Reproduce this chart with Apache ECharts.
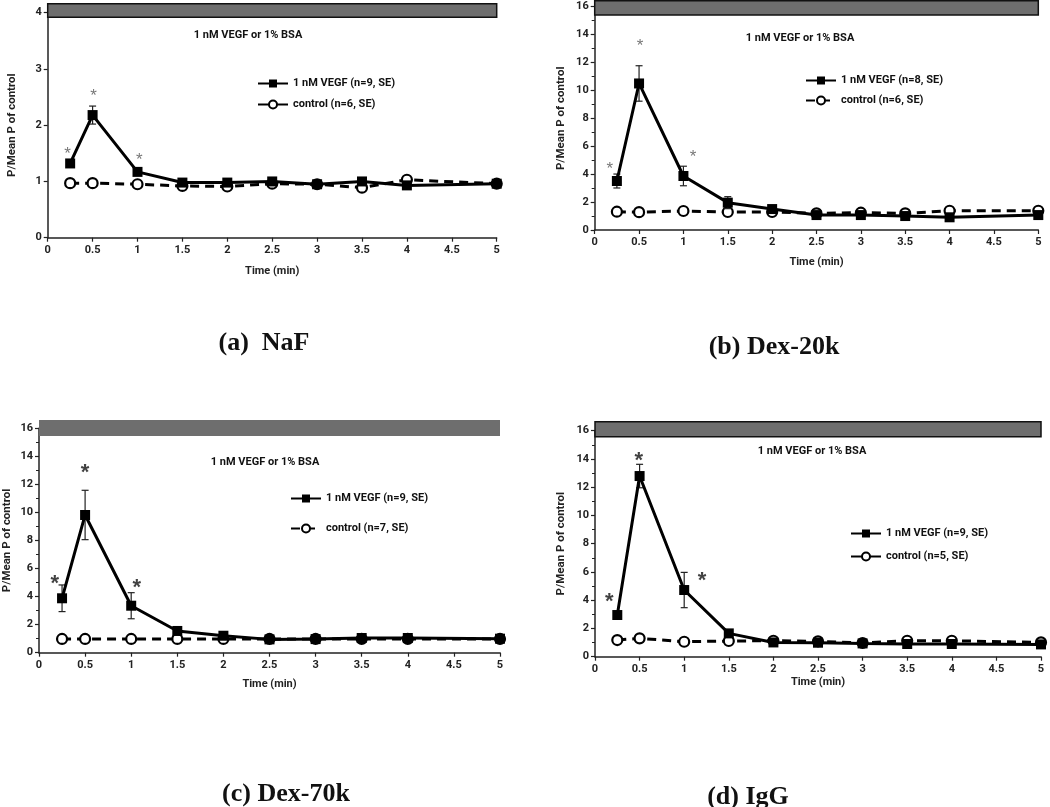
<!DOCTYPE html>
<html><head><meta charset="utf-8">
<script src="https://cdn.jsdelivr.net/npm/echarts@6/dist/echarts.min.js"></script>
<style>html,body{margin:0;padding:0;background:#fff}#c{width:1050px;height:807px}</style>
</head><body><div id="c"></div>
<script>
// ---------- DATA ----------
const times = [0.25, 0.5, 1, 1.5, 2, 2.5, 3, 3.5, 4, 5];
const xTickLabels = ['0','0.5','1','1.5','2','2.5','3','3.5','4','4.5','5'];
const yTicksA = ['0','1','2','3','4'];
const yTicksBCD = ['0','2','4','6','8','10','12','14','16'];

const vegfA   = [1.32, 2.18, 1.17, 0.98, 0.98, 1.00, 0.95, 1.00, 0.93, 0.96];
const vegfSeA = [0.05, 0.16, 0.04, 0.03, 0.03, 0.03, 0.03, 0.03, 0.03, 0.03];
const ctrlA   = [0.97, 0.97, 0.95, 0.92, 0.91, 0.96, 0.95, 0.89, 1.03, 0.96];

const vegfB   = [3.51, 10.5, 3.87, 1.96, 1.50, 1.07, 1.07, 1.00, 0.91, 1.07];
const vegfSeB = [0.50, 1.27, 0.70, 0.43, 0.20, 0.10, 0.10, 0.10, 0.10, 0.10];
const ctrlB   = [1.31, 1.28, 1.36, 1.29, 1.29, 1.19, 1.24, 1.19, 1.38, 1.38];

const vegfC   = [3.88, 9.82, 3.35, 1.55, 1.21, 0.95, 0.97, 1.05, 1.05, 1.00];
const vegfSeC = [0.95, 1.76, 0.93, 0.15, 0.10, 0.08, 0.08, 0.08, 0.08, 0.08];
const ctrlC   = [0.98, 0.98, 0.98, 0.98, 0.98, 0.98, 0.98, 0.98, 0.98, 0.98];

const vegfD   = [2.95, 12.79, 4.72, 1.65, 1.01, 0.99, 0.94, 0.90, 0.90, 0.87];
const vegfSeD = [0.15, 0.83, 1.25, 0.10, 0.08, 0.08, 0.08, 0.08, 0.08, 0.08];
const ctrlD   = [1.18, 1.30, 1.06, 1.11, 1.13, 1.09, 0.97, 1.13, 1.13, 1.01];

// asterisk positions [time, value]
const starsA = [[0.22, 1.57], [0.51, 2.60], [1.02, 1.47]];
const starsB = [[0.17, 4.73], [0.51, 13.5], [1.11, 5.54]];
const starsC = [[0.17, 5.40], [0.50, 13.3], [1.06, 5.10]];
const starsD = [[0.16, 4.37], [0.49, 14.3], [1.20, 5.83]];

// gray "treatment" band [xStart, xEnd, yLow, yHigh]
const bandA = [0, 5, 3.92, 4.16];
const bandB = [0, 5, 15.40, 16.42];
const bandC = [0, 5, 15.45, 16.60];
const bandD = [0, 5, 15.58, 16.64];

const vegfNames = ['1 nM VEGF (n=9, SE)', '1 nM VEGF (n=8, SE)', '1 nM VEGF (n=9, SE)', '1 nM VEGF (n=9, SE)'];
const ctrlNames = ['control (n=6, SE)', 'control (n=6, SE) ', 'control (n=7, SE)', 'control (n=5, SE)'];
const bandLabel = '1 nM VEGF or 1% BSA';
const subtitles = ['(a)  NaF', '(b) Dex-20k', '(c) Dex-70k', '(d) IgG'];
const xName = 'Time (min)';
const yName = 'P/Mean P of control';

// ---------- LAYOUT ----------
const FONT = 'Roboto, "Open Sans", sans-serif';
const panels = [
  { vegf: vegfA, se: vegfSeA, ctrl: ctrlA, stars: starsA, band: bandA, yMax: 4, yInt: 1, minor: false, yTicks: yTicksA,
    grid: { left: 47.7, right: 553.3, top: 12.7, bottom: 569.3 }, yGap: 30, xGap: 28, border: true,
    legend: { left: 257, top: 78, gap: 10 }, bandText: [248, 35], sub: [264, 343], starSize: 17, starBold: false, starColor: '#555', ctrlLegendSolid: true },
  { vegf: vegfB, se: vegfSeB, ctrl: ctrlB, stars: starsB, band: bandB, yMax: 16, yInt: 2, minor: true, yTicks: yTicksBCD,
    grid: { left: 594.7, right: 11.7, top: 6.7, bottom: 577 }, yGap: 28, xGap: 27, border: true,
    legend: { left: 805, top: 75, gap: 9 }, bandText: [800, 38], sub: [774, 347], starSize: 17, starBold: false, starColor: '#555', ctrlLegendSolid: false },
  { vegf: vegfC, se: vegfSeC, ctrl: ctrlC, stars: starsC, band: bandC, yMax: 16, yInt: 2, minor: true, yTicks: yTicksBCD,
    grid: { left: 37.3, right: 550, top: 428.3, bottom: 154.3 }, yGap: 26, xGap: 26, border: false,
    legend: { left: 290, top: 493, gap: 19 }, bandText: [265, 462], sub: [286, 794], starSize: 22, starBold: true, starColor: '#111', ctrlLegendSolid: false },
  { vegf: vegfD, se: vegfSeD, ctrl: ctrlD, stars: starsD, band: bandD, yMax: 16, yInt: 2, minor: true, yTicks: yTicksBCD,
    grid: { left: 595, right: 9, top: 430.7, bottom: 150.3 }, yGap: 28, xGap: 20, border: true,
    legend: { left: 850, top: 528, gap: 12 }, bandText: [812, 451], sub: [748, 797], starSize: 22, starBold: true, starColor: '#111', ctrlLegendSolid: true }
];

const grids = [], xAxes = [], yAxes = [], series = [], legends = [], graphics = [];
const axisLine = { show: true, lineStyle: { color: '#222', width: 1.5 } };
const labelStyle = { color: '#222', fontFamily: FONT, fontWeight: 'bold', fontSize: 11 };

panels.forEach((p, i) => {
  grids.push(Object.assign({ containLabel: false }, p.grid));
  xAxes.push({
    type: 'value', gridIndex: i, min: 0, max: 5, interval: 0.5,
    name: xName, nameLocation: 'middle', nameGap: p.xGap,
    nameTextStyle: labelStyle,
    axisLine: axisLine, axisTick: { show: true, length: 4, lineStyle: { color: '#222', width: 1.2 } },
    axisLabel: Object.assign({ margin: 7, formatter: v => xTickLabels[Math.round(v / 0.5)] }, labelStyle),
    splitLine: { show: false }
  });
  yAxes.push({
    type: 'value', gridIndex: i, min: 0, max: p.yMax, interval: p.yInt,
    name: yName, nameLocation: 'middle', nameGap: p.yGap,
    nameTextStyle: Object.assign({}, labelStyle, { fontSize: 11.5 }),
    axisLine: axisLine, axisTick: { show: true, length: 4, lineStyle: { color: '#222', width: 1.2 } },
    minorTick: { show: p.minor, splitNumber: 2, length: 3, lineStyle: { color: '#222', width: 1 } },
    axisLabel: Object.assign({ margin: 6, formatter: v => p.yTicks[Math.round(v / p.yInt)] }, labelStyle),
    splitLine: { show: false }
  });
  // gray band
  series.push({
    type: 'custom', xAxisIndex: i, yAxisIndex: i, clip: false, silent: true, z: 1,
    data: [p.band],
    encode: { x: [0, 1], y: [2, 3] },
    renderItem: (params, api) => {
      const a = api.coord([api.value(0), api.value(2)]);
      const b = api.coord([api.value(1), api.value(3)]);
      return { type: 'rect', shape: { x: a[0], y: b[1], width: b[0] - a[0], height: a[1] - b[1] },
        style: { fill: '#6e6e6e', stroke: p.border ? '#111' : null, lineWidth: p.border ? 1.5 : 0 } };
    }
  });
  // control
  series.push({
    type: 'line', name: ctrlNames[i], xAxisIndex: i, yAxisIndex: i, z: 3,
    data: times.map((t, k) => [t, p.ctrl[k]]),
    symbol: 'circle', symbolSize: 10,
    lineStyle: { color: '#000', width: 3, type: [9, 6] },
    itemStyle: { color: '#fff', borderColor: '#000', borderWidth: 2.2 },
    emphasis: { disabled: true }
  });
  // error bars for VEGF
  series.push({
    type: 'custom', xAxisIndex: i, yAxisIndex: i, silent: true, z: 4,
    data: times.map((t, k) => [t, p.vegf[k] - p.se[k], p.vegf[k] + p.se[k]]),
    encode: { x: 0, y: [1, 2] },
    renderItem: (params, api) => {
      const lo = api.coord([api.value(0), api.value(1)]);
      const hi = api.coord([api.value(0), api.value(2)]);
      const w = 3.5;
      return { type: 'group', children: [
        { type: 'line', shape: { x1: lo[0], y1: lo[1], x2: hi[0], y2: hi[1] }, style: { stroke: '#222', lineWidth: 1.2 } },
        { type: 'line', shape: { x1: hi[0] - w, y1: hi[1], x2: hi[0] + w, y2: hi[1] }, style: { stroke: '#222', lineWidth: 1.2 } },
        { type: 'line', shape: { x1: lo[0] - w, y1: lo[1], x2: lo[0] + w, y2: lo[1] }, style: { stroke: '#222', lineWidth: 1.2 } }
      ] };
    }
  });
  // VEGF
  series.push({
    type: 'line', name: vegfNames[i], xAxisIndex: i, yAxisIndex: i, z: 5,
    data: times.map((t, k) => [t, p.vegf[k]]),
    symbol: 'rect', symbolSize: 10,
    lineStyle: { color: '#000', width: 3 },
    itemStyle: { color: '#000' },
    emphasis: { disabled: true }
  });
  // asterisks
  series.push({
    type: 'scatter', xAxisIndex: i, yAxisIndex: i, z: 6, silent: true,
    data: p.stars, symbolSize: 1, itemStyle: { color: 'rgba(0,0,0,0)' },
    label: { show: true, position: 'inside', formatter: '*', color: p.starColor,
      fontFamily: 'Liberation Sans, sans-serif', fontSize: p.starSize, fontWeight: p.starBold ? 'bold' : 'normal',
      offset: [0, p.starSize * 0.3] }
  });
  const lg = {
    orient: 'vertical', left: p.legend.left, top: p.legend.top, itemGap: p.legend.gap,
    itemWidth: 30, itemHeight: 10, padding: 0,
    data: [vegfNames[i], ctrlNames[i]],
    selectedMode: false,
    textStyle: { color: '#111', fontFamily: FONT, fontWeight: 'bold', fontSize: 11 }
  };
  if (p.ctrlLegendSolid) lg.lineStyle = { type: 'solid' };
  legends.push(lg);
  graphics.push({ type: 'text', x: p.bandText[0], y: p.bandText[1],
    style: { text: bandLabel, align: 'center', verticalAlign: 'middle', textAlign: 'center', textVerticalAlign: 'middle',
      font: 'bold 11px ' + FONT, fill: '#111' } });
  graphics.push({ type: 'text', x: p.sub[0], y: p.sub[1],
    style: { text: subtitles[i], align: 'center', verticalAlign: 'middle', textAlign: 'center', textVerticalAlign: 'middle',
      font: 'bold 26px "Liberation Serif", "DejaVu Serif", serif', fill: '#111' } });
});

const chart = echarts.init(document.getElementById('c'), null, { renderer: 'canvas' });
chart.setOption({
  backgroundColor: '#fff',
  animation: false,
  grid: grids, xAxis: xAxes, yAxis: yAxes, series: series, legend: legends, graphic: graphics
});
</script></body></html>
